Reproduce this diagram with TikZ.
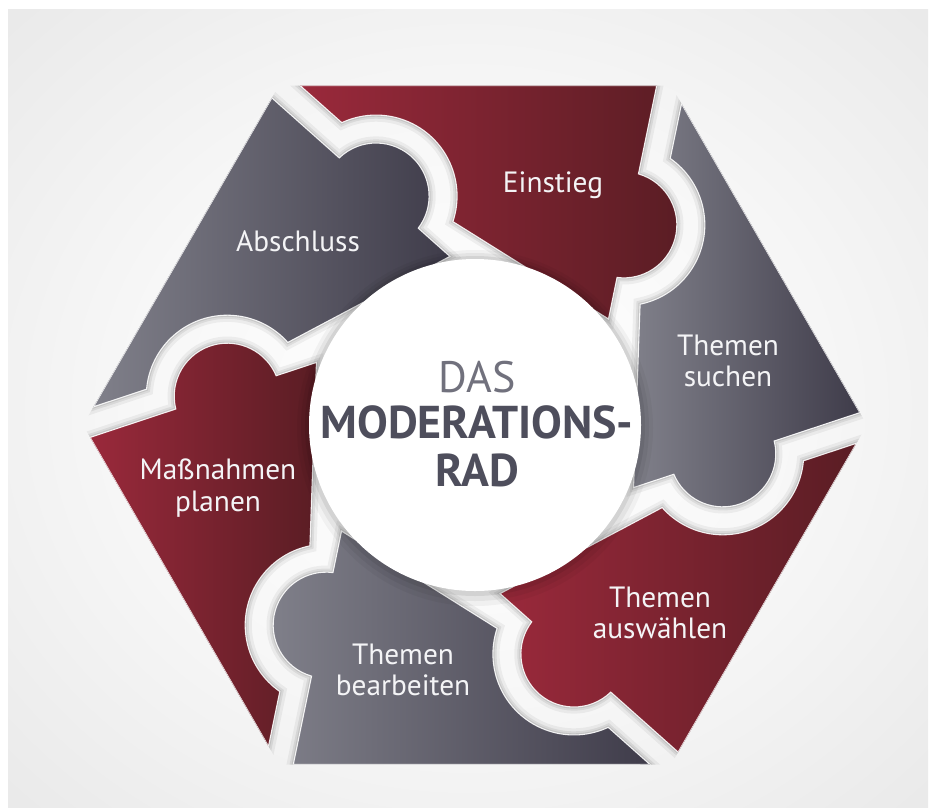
\documentclass[tikz,border=0pt]{standalone}
\usepackage{fontspec}
\setmainfont{PT Sans}
\usepackage{tikz}
\definecolor{GreyLight}{RGB}{128,128,138}
\definecolor{GreyDark}{RGB}{63,60,74}
\definecolor{RedLight}{RGB}{154,41,59}
\definecolor{RedDark}{RGB}{90,29,36}
\definecolor{TitleGrey}{RGB}{78,78,92}
\definecolor{LabelWhite}{RGB}{244,244,246}
\pgfdeclareradialshading{bgglow}{\pgfpoint{0bp}{0bp}}{color(0bp)=(white); color(18bp)=(white!97!black); color(50bp)=(white!87!black)}
\tikzset{
  % one piece of the wheel in its own frame: knob on the 0 deg spoke, notch on the 60 deg spoke
  wheel piece/.style={insert path={(206.53,321.25) -- (384.85,12.38) -- (299.17,-15.99) arc[start angle=14.0, end angle=-157.34, radius=53] -- (158.56,-62.56) -- (165.10,120.80) arc[start angle=-78.41, end angle=55.05, radius=81] -- cycle}},
  label text/.style={text=LabelWhite,font=\fontsize{22}{23.5}\selectfont,align=center,inner sep=0pt},
  title text/.style={text=TitleGrey,inner sep=0pt,anchor=base}
}

\begin{document}
\begin{tikzpicture}[x=0.75pt,y=0.75pt,yscale=-1,xscale=1]
\useasboundingbox (0,0) rectangle (934,807);

%Shape: Rectangle [background]
\shade[shading=bgglow] (8,9) rectangle (928,807);

\begin{scope}
%Shape: Polygon [hexagon]
\clip (867,425) -- (671,85.5) -- (279,85.5) -- (83,425) -- (279,764.5) -- (671,764.5) -- cycle;
\begin{scope}[shift={(475,425)},yscale=-1]
%Shadows in the gaps
\foreach \k in {0,...,5}{
  \begin{scope}[rotate=60*\k]
  \draw[black,opacity=0.05,line width=10pt,wheel piece];
  \draw[black,opacity=0.07,line width=5.5pt,wheel piece];
  \draw[black,opacity=0.09,line width=2.5pt,wheel piece];
  \end{scope}}
%Shape: Pieces
\foreach \k/\cl/\cr in {0/GreyLight/GreyDark,1/RedLight/RedDark,2/GreyLight/GreyDark,3/RedLight/RedDark,4/GreyLight/GreyDark,5/RedLight/RedDark}{
  \begin{scope}[rotate=60*\k]
  \shade[left color=\cl,right color=\cr,wheel piece];
  \draw[white,opacity=0.9,line width=0.8pt,wheel piece];
  \end{scope}}
%Shape: Circle [hub with glow]
\fill[black,opacity=0.04] (0,-3) circle (178);
\fill[black,opacity=0.05] (0,-2) circle (174);
\fill[black,opacity=0.07] (0,-1) circle (170);
\fill[white] (0,0) circle (166);
\end{scope}
\end{scope}

% Text Node
\node[label text,anchor=base] (einstieg) at (553,192) {Einstieg};
% Text Node
\node[label text,anchor=base] (abschluss) at (298,251) {Abschluss};
% Text Node
\node[label text] (suchen) at (728,361) {Themen\\suchen};
% Text Node
\node[label text] (auswaehlen) at (660,613) {Themen\\auswählen};
% Text Node
\node[label text] (bearbeiten) at (403,670) {Themen\\bearbeiten};
% Text Node
\node[label text] (planen) at (218,488) {Maßnahmen\\planen};
% Text Node
\node[title text,text=TitleGrey!80,font=\fontsize{33}{36}\selectfont] (das) at (477,392) {DAS};
% Text Node
\node[title text,font=\bfseries\fontsize{34.5}{36}\selectfont] (moderations) at (477,438) {MODERATIONS-};
% Text Node
\node[title text,font=\bfseries\fontsize{34.5}{36}\selectfont] (rad) at (477,486) {RAD};

\end{tikzpicture}
\end{document}
